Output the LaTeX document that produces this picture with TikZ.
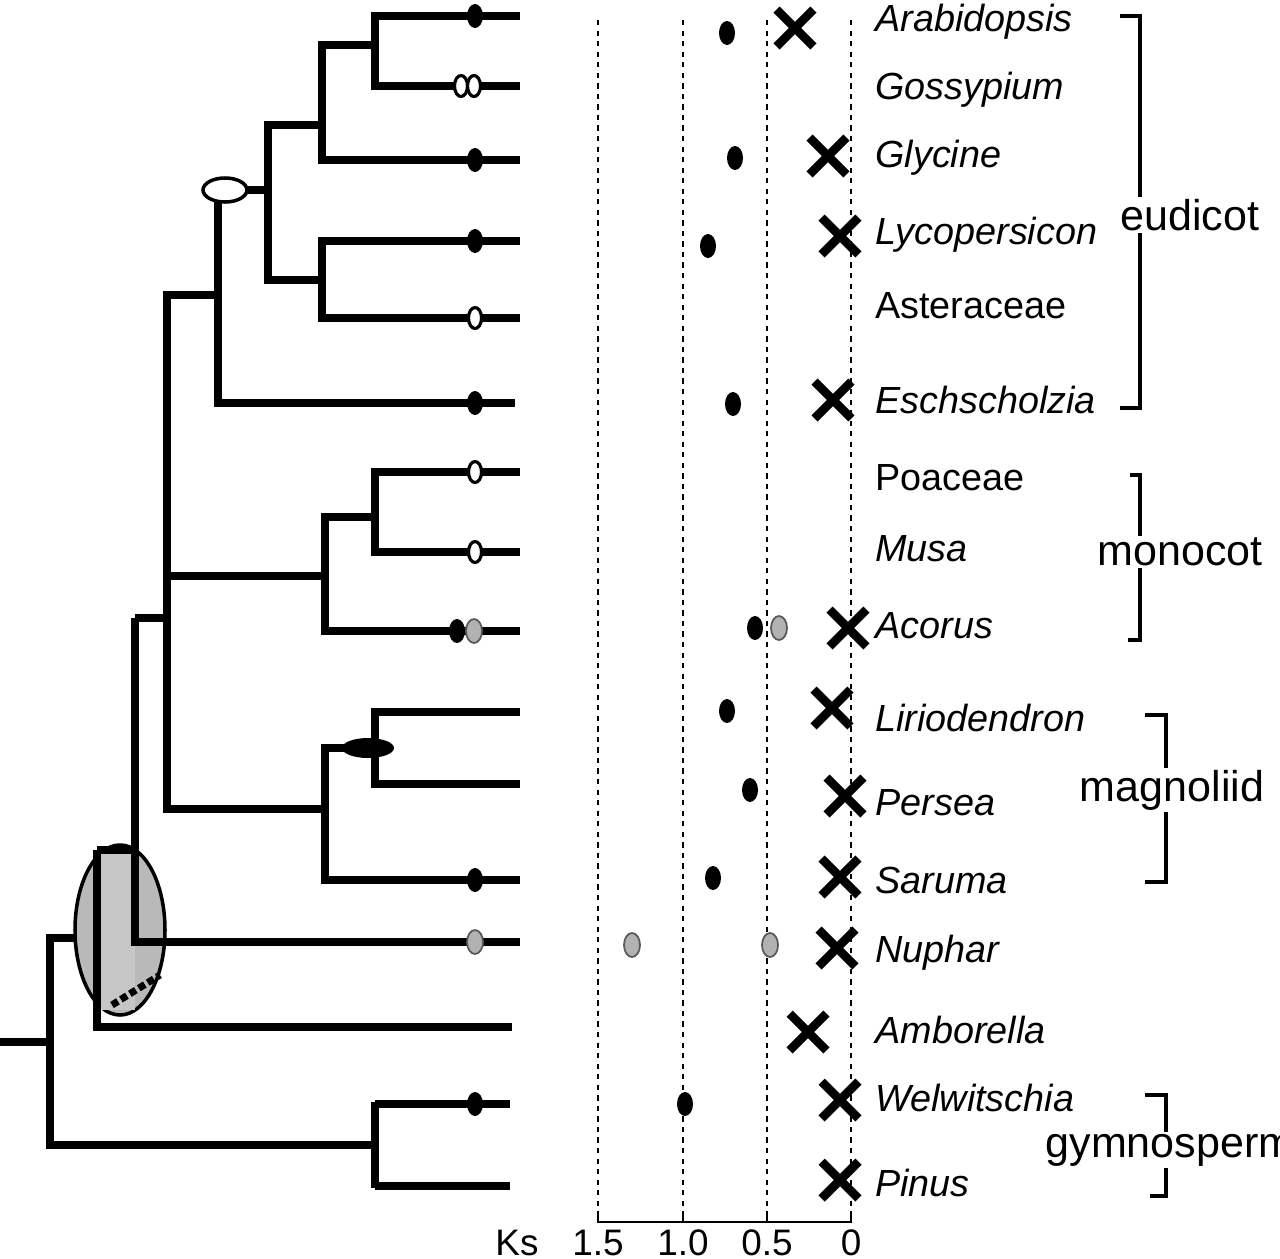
\documentclass[tikz,border=0pt]{standalone}
\usepackage{fontspec}
\setmainfont{Liberation Sans}
\usetikzlibrary{shapes.geometric,shapes.misc}
\def\pxu{*0.02cm}
\begin{document}
\begin{tikzpicture}[x=0.02cm,y=-0.02cm,
  br/.style={line width=5pt},
  fd/.style={ellipse,fill=black,minimum width=16\pxu,minimum height=24\pxu,inner sep=0},
  od/.style={ellipse,draw,fill=white,line width=1.8pt,minimum width=13\pxu,minimum height=21\pxu,inner sep=0},
  gd/.style={ellipse,draw=gray!70!black,fill=gray!60,line width=1pt,minimum width=16\pxu,minimum height=24\pxu,inner sep=0},
  xm/.style={cross out,draw,line width=5pt,minimum size=28\pxu,inner sep=0},
  lab/.style={anchor=west,font=\fontsize{21.5}{24}\selectfont,inner sep=0},
  grp/.style={font=\fontsize{24.5}{28}\selectfont,fill=white,inner sep=1pt},
  vl/.style={dashed,line width=1.2pt},
  bk/.style={line width=2.2pt}]
\useasboundingbox (0,0) rectangle (1280,1258);
% tree
\draw[br] (0,1042) -- (50,1042);
\draw[br] (97,938) -- (50,938) -- (50,1145) -- (375,1145);
\draw[br] (375,1104) -- (510,1104); \draw[br] (375,1186) -- (510,1186);
\draw[br] (375,1102) -- (375,1188);
% angiosperm ellipse
\node[ellipse,draw,line width=2pt,fill=gray!55,minimum width=90\pxu,minimum height=170\pxu] (ell) at (120,930) {};
\fill[gray!45] (97,850) rectangle (135,1010);
\draw[br] (97,850) -- (97,1027) -- (512,1027);
\draw[br] (97,850) -- (135,850);
\draw[br] (135,618) -- (135,942) -- (520,942);
\draw[line width=4pt,dotted] (112,1005) -- (160,975);
\draw[br] (135,618) -- (167,618);
\draw[br] (218,295) -- (167,295) -- (167,809) -- (325,809);
\draw[br] (167,576) -- (325,576);
% monocots
\draw[br] (375,517) -- (325,517) -- (325,631) -- (520,631);
\draw[br] (520,472) -- (375,472) -- (375,552) -- (520,552);
% magnoliids
\draw[br] (375,748) -- (325,748) -- (325,880) -- (520,880);
\draw[br] (520,712) -- (375,712) -- (375,784) -- (520,784);
\node[ellipse,fill=black,minimum width=52\pxu,minimum height=20\pxu,inner sep=0] (mw) at (368,748) {};
% eudicots
\draw[br] (268,190) -- (218,190) -- (218,403) -- (515,403);
\draw[br] (322,125) -- (268,125) -- (268,280) -- (322,280);
\draw[br] (375,45) -- (322,45) -- (322,160) -- (520,160);
\draw[br] (520,16) -- (375,16) -- (375,86) -- (520,86);
\draw[br] (520,241) -- (322,241) -- (322,318) -- (520,318);
\node[ellipse,draw,fill=white,line width=2pt,minimum width=44\pxu,minimum height=24\pxu,inner sep=0] (ew) at (225,190) {};
% branch dots
\node[fd] (d1) at (475,16) {};
\node[od] (d2a) at (461,86) {}; \node[od] (d2b) at (474,86) {};
\node[fd] (d3) at (475,160) {};
\node[fd] (d4) at (475,241) {};
\node[od] (d5) at (475,318) {};
\node[fd] (d6) at (475,403) {};
\node[od] (d7) at (475,472) {};
\node[od] (d8) at (475,552) {};
\node[fd] (d9a) at (457,631) {}; \node[gd] (d9b) at (474,631) {};
\node[fd] (d12) at (475,880) {};
\node[gd] (d13) at (475,942) {};
\node[fd] (d15) at (475,1104) {};
% Ks axis
\foreach \x/\n in {598/a,683/b,767/c,851/d}{
  \draw[vl] (\x,20) -- (\x,1215);
  \coordinate (t\n) at (\x,1218);}
\draw[line width=1.5pt] (598,1212) -- (598,1222) -- (851,1222) -- (851,1212);
\foreach \x in {683,767} \draw[line width=1.5pt] (\x,1212) -- (\x,1222);
\foreach \x/\t in {598/1.5,683/1.0,767/0.5,851/0}
  \node[font=\fontsize{21}{24}\selectfont] at (\x,1243) {\t};
\node[font=\fontsize{21}{24}\selectfont] (ks) at (517,1243) {Ks};
% Ks points
\node[fd] (k1) at (727,33) {};
\node[fd] (k3) at (735,158) {};
\node[fd] (k4) at (708,246) {};
\node[fd] (k6) at (733,404) {};
\node[fd] (k9a) at (755,628) {}; \node[gd] (k9b) at (779,628) {};
\node[fd] (k10) at (727,711) {};
\node[fd] (k11) at (750,790) {};
\node[fd] (k12) at (713,878) {};
\node[gd] (k13a) at (632,945) {}; \node[gd] (k13b) at (770,945) {};
\node[fd] (k15) at (685,1104) {};
% crosses
\foreach \n/\x/\y in {1/795/28,3/828/156,4/840/236,6/833/400,9/848/628,10/832/708,11/845/796,12/840/877,13/837/948,14/808/1032,15/840/1100,16/840/1180}
  \node[xm] (x\n) at (\x,\y) {};
% taxa
\node[lab] (l1) at (875,22) {\itshape Arabidopsis};
\node[lab] (l2) at (875,90) {\itshape Gossypium};
\node[lab] (l3) at (875,158) {\itshape Glycine};
\node[lab] (l4) at (875,235) {\itshape Lycopersicon};
\node[lab] (l5) at (875,306) {Asteraceae};
\node[lab] (l6) at (875,400) {\itshape Eschscholzia};
\node[lab] (l7) at (875,478) {Poaceae};
\node[lab] (l8) at (875,549) {\itshape Musa};
\node[lab] (l9) at (875,626) {\itshape Acorus};
\node[lab] (l10) at (875,718) {\itshape Liriodendron};
\node[lab] (l11) at (875,803) {\itshape Persea};
\node[lab] (l12) at (875,880) {\itshape Saruma};
\node[lab] (l13) at (875,953) {\itshape Nuphar};
\node[lab] (l14) at (875,1030) {\itshape Amborella};
\node[lab] (l15) at (875,1098) {\itshape Welwitschia};
\node[lab] (l16) at (875,1183) {\itshape Pinus};
% brackets
\draw[bk] (1120,16) -- (1140,16) -- (1140,408) -- (1120,408);
\draw[bk] (1130,475) -- (1140,475) -- (1140,640) -- (1128,640);
\draw[bk] (1145,715) -- (1166,715) -- (1166,882) -- (1145,882);
\draw[bk] (1145,1095) -- (1166,1095) -- (1166,1196) -- (1150,1196);
\node[grp] (g1) at (1190,215) {eudicot};
\node[grp] (g2) at (1180,552) {monocot};
\node[grp] (g3) at (1172,790) {magnoliid};
\node[grp] (g4) at (1170,1150) {gymnosperm};
\end{tikzpicture}
\end{document}
